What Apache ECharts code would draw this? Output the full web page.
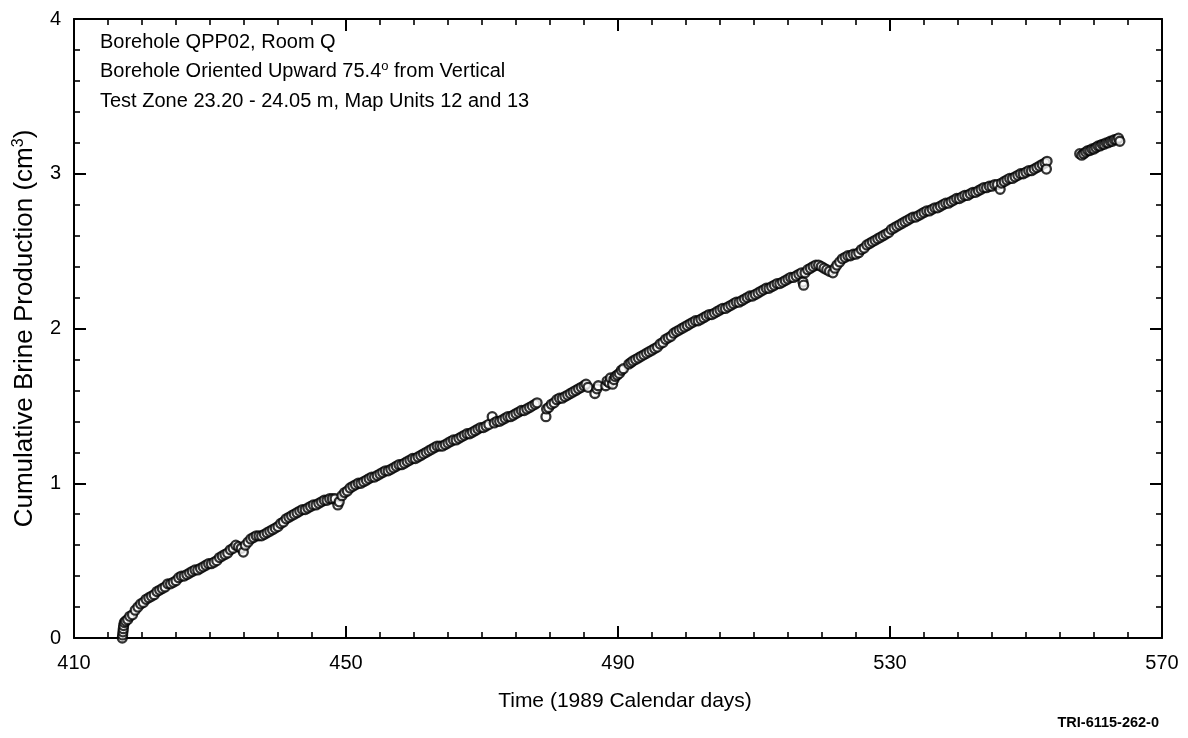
<!DOCTYPE html>
<html>
<head>
<meta charset="utf-8">
<script src="https://cdn.jsdelivr.net/npm/echarts@6/dist/echarts.min.js"></script>
<style>
html,body{margin:0;padding:0;background:#fff;}
#chart{width:1188px;height:738px;}
</style>
</head>
<body>
<div id="chart"></div>
<script>
// ---- Data ----
var xTicks = [410, 450, 490, 530, 570];
var yTicks = [0, 1, 2, 3, 4];
var annotationLines = [
  'Borehole QPP02, Room Q',
  'Borehole Oriented Upward 75.4',
  'Test Zone 23.20 - 24.05 m, Map Units 12 and 13'
];
var xTitle = 'Time (1989 Calendar days)';
var yTitle = 'Cumulative Brine Production (cm';
var figureId = 'TRI-6115-262-0';

// segment 1: day 417 - 478
var brineSeg1 = [
[417.1,0.00],[417.15,0.02],[417.2,0.04],[417.25,0.06],[417.3,0.08],[417.4,0.10],[417.6,0.11],[417.9,0.12],[418.2,0.14],[418.6,0.15],
[419.0,0.18],[419.4,0.20],[419.8,0.22],[420.2,0.23],[420.6,0.25],[421.0,0.26],[421.4,0.27],[421.8,0.28],[422.2,0.30],[422.6,0.31],
[423.0,0.32],[423.4,0.33],[423.8,0.35],[424.2,0.35],[424.6,0.36],[425.0,0.37],[425.4,0.39],[425.8,0.40],[426.2,0.40],[426.6,0.41],
[427.0,0.42],[427.4,0.43],[427.8,0.44],[428.2,0.44],[428.6,0.45],[429.0,0.46],[429.4,0.47],[429.8,0.48],[430.2,0.48],[430.6,0.49],
[431.0,0.50],[431.4,0.52],[431.8,0.53],[432.2,0.54],[432.6,0.55],[433.0,0.57],[433.4,0.58],[433.8,0.60],[434.2,0.59],[434.6,0.58],
[434.9,0.555],[435.2,0.60],[435.6,0.62],[436.0,0.64],[436.4,0.65],[436.8,0.66],[437.2,0.66],[437.6,0.66],[438.0,0.67],[438.4,0.68],
[438.8,0.69],[439.2,0.70],[439.6,0.71],[440.0,0.72],[440.4,0.74],[440.8,0.75],[441.2,0.77],[441.6,0.78],[442.0,0.79],[442.4,0.80],
[442.8,0.81],[443.2,0.82],[443.6,0.83],[444.0,0.83],[444.4,0.84],[444.8,0.85],[445.2,0.86],[445.6,0.86],[446.0,0.87],[446.4,0.88],
[446.8,0.89],[447.2,0.89],[447.6,0.90],[448.0,0.90],[448.4,0.90],[448.8,0.86],[449.0,0.88],[449.4,0.92],[449.8,0.94],[450.2,0.95],
[450.6,0.97],[451.0,0.98],[451.4,0.99],[451.8,1.00],[452.2,1.00],[452.6,1.01],[453.0,1.02],[453.4,1.03],[453.8,1.04],[454.2,1.04],
[454.6,1.05],[455.0,1.06],[455.4,1.07],[455.8,1.08],[456.2,1.08],[456.6,1.09],[457.0,1.10],[457.4,1.11],[457.8,1.12],[458.2,1.12],
[458.6,1.13],[459.0,1.14],[459.4,1.15],[459.8,1.16],[460.2,1.16],[460.6,1.17],[461.0,1.18],[461.4,1.19],[461.8,1.20],[462.2,1.21],
[462.6,1.22],[463.0,1.23],[463.4,1.24],[463.8,1.24],[464.2,1.24],[464.6,1.25],[465.0,1.26],[465.4,1.27],[465.8,1.28],[466.2,1.28],
[466.6,1.29],[467.0,1.30],[467.4,1.31],[467.8,1.32],[468.2,1.32],[468.6,1.33],[469.0,1.34],[469.4,1.35],[469.8,1.36],[470.2,1.36],
[470.6,1.37],[471.0,1.38],[471.5,1.43],[471.8,1.39],[472.2,1.40],[472.6,1.40],[473.0,1.41],[473.4,1.42],[473.8,1.43],[474.2,1.43],
[474.6,1.44],[475.0,1.45],[475.4,1.46],[475.8,1.47],[476.2,1.47],[476.6,1.48],[477.0,1.49],[477.4,1.50],[477.8,1.51],[478.1,1.52]
];
// segment 2: day 479 - 553
var brineSeg2 = [
[479.4,1.43],[479.5,1.48],[479.8,1.49],[480.2,1.51],[480.6,1.52],[481.0,1.54],[481.4,1.55],[481.8,1.55],[482.2,1.56],[482.6,1.57],
[483.0,1.58],[483.4,1.59],[483.8,1.60],[484.2,1.61],[484.6,1.62],[485.0,1.63],[485.3,1.64],[485.6,1.62],[486.6,1.58],[486.9,1.61],
[487.1,1.63],[488.2,1.63],[488.4,1.66],[488.7,1.65],[488.9,1.68],[489.2,1.64],[489.4,1.67],[489.6,1.69],[489.9,1.70],[490.2,1.71],
[490.5,1.73],[490.8,1.74],[491.6,1.77],[491.9,1.78],[492.2,1.79],[492.6,1.80],[493.0,1.81],[493.4,1.82],[493.8,1.83],[494.2,1.84],
[494.6,1.85],[495.0,1.86],[495.4,1.87],[495.8,1.88],[496.2,1.90],[496.6,1.91],[497.0,1.93],[497.4,1.94],[497.8,1.95],[498.2,1.97],
[498.6,1.98],[499.0,1.99],[499.4,2.00],[499.8,2.01],[500.2,2.02],[500.6,2.03],[501.0,2.04],[501.4,2.05],[501.8,2.05],[502.2,2.06],
[502.6,2.07],[503.0,2.08],[503.4,2.09],[503.8,2.09],[504.2,2.10],[504.6,2.11],[505.0,2.12],[505.4,2.13],[505.8,2.13],[506.2,2.14],
[506.6,2.15],[507.0,2.16],[507.4,2.17],[507.8,2.17],[508.2,2.18],[508.6,2.19],[509.0,2.20],[509.4,2.21],[509.8,2.21],[510.2,2.22],
[510.6,2.23],[511.0,2.24],[511.4,2.25],[511.8,2.26],[512.2,2.26],[512.6,2.27],[513.0,2.28],[513.4,2.29],[513.8,2.29],[514.2,2.30],
[514.6,2.31],[515.0,2.32],[515.4,2.33],[515.8,2.33],[516.2,2.34],[516.6,2.35],[517.0,2.36],[517.2,2.30],[517.3,2.28],[517.5,2.36],
[517.9,2.38],[518.3,2.39],[518.7,2.40],[519.1,2.41],[519.5,2.41],[519.9,2.40],[520.3,2.39],[520.7,2.38],[521.1,2.37],[521.6,2.36],
[521.9,2.39],[522.2,2.41],[522.6,2.43],[523.0,2.45],[523.4,2.46],[523.8,2.47],[524.2,2.47],[524.6,2.48],[525.0,2.48],[525.4,2.49],
[525.8,2.51],[526.2,2.52],[526.6,2.54],[527.0,2.55],[527.4,2.56],[527.8,2.57],[528.2,2.58],[528.6,2.59],[529.0,2.60],[529.4,2.61],
[529.8,2.62],[530.2,2.64],[530.6,2.65],[531.0,2.66],[531.4,2.67],[531.8,2.68],[532.2,2.69],[532.6,2.70],[533.0,2.71],[533.4,2.72],
[533.8,2.72],[534.2,2.73],[534.6,2.74],[535.0,2.75],[535.4,2.76],[535.8,2.76],[536.2,2.77],[536.6,2.78],[537.0,2.78],[537.4,2.79],
[537.8,2.80],[538.2,2.81],[538.6,2.81],[539.0,2.82],[539.4,2.83],[539.8,2.84],[540.2,2.84],[540.6,2.85],[541.0,2.86],[541.4,2.86],
[541.8,2.87],[542.2,2.88],[542.6,2.88],[543.0,2.89],[543.4,2.90],[543.8,2.91],[544.2,2.91],[544.6,2.92],[545.0,2.92],[545.4,2.93],
[545.8,2.93],[546.2,2.90],[546.4,2.94],[546.8,2.95],[547.2,2.96],[547.6,2.97],[548.0,2.97],[548.4,2.98],[548.8,2.99],[549.2,3.00],
[549.6,3.00],[550.0,3.01],[550.4,3.02],[550.8,3.02],[551.2,3.03],[551.6,3.04],[552.0,3.05],[552.4,3.06],[552.8,3.07],[553.1,3.08],
[553.0,3.03]
];
// segment 3: day 558 - 564
var brineSeg3 = [
[557.9,3.13],[558.2,3.12],[558.5,3.13],[558.8,3.14],[559.1,3.15],[559.4,3.15],[559.7,3.16],[560.0,3.16],[560.3,3.17],[560.6,3.18],
[560.9,3.18],[561.2,3.19],[561.5,3.19],[561.8,3.20],[562.1,3.20],[562.4,3.21],[562.7,3.21],[563.0,3.22],[563.3,3.22],[563.6,3.23],
[563.8,3.21]
];

var FONT = '"Liberation Sans", Arial, sans-serif';
var chart = echarts.init(document.getElementById('chart'), null, {renderer: 'canvas'});

var axisLineStyle = {color: '#000', width: 2};
function xAxisDef(pos, showLabels) {
  return {
    type: 'value', position: pos, min: xTicks[0], max: xTicks[xTicks.length - 1], interval: 40,
    axisLine: {show: true, onZero: false, lineStyle: axisLineStyle},
    axisTick: {show: true, inside: true, length: 12, lineStyle: {color: '#000', width: 2}},
    minorTick: {show: true, splitNumber: 8, length: 6, lineStyle: {color: '#000', width: 1.6}},
    splitLine: {show: false},
    axisLabel: {show: showLabels, color: '#000', fontSize: 20, fontFamily: FONT, margin: 15},
    name: showLabels ? xTitle : '',
    nameLocation: 'middle', nameGap: 53,
    nameTextStyle: {color: '#000', fontSize: 21, fontFamily: FONT, padding: [0, 0, 0, 14]}
  };
}
function yAxisDef(pos, showLabels) {
  return {
    type: 'value', position: pos, min: yTicks[0], max: yTicks[yTicks.length - 1], interval: 1,
    axisLine: {show: true, onZero: false, lineStyle: axisLineStyle},
    axisTick: {show: true, inside: true, length: 12, lineStyle: {color: '#000', width: 2}},
    minorTick: {show: true, splitNumber: 5, length: 6, lineStyle: {color: '#000', width: 1.6}},
    splitLine: {show: false},
    axisLabel: {show: showLabels, color: '#000', fontSize: 20, fontFamily: FONT, margin: 13},
    name: showLabels ? '{t|' + yTitle + '}{s|3}{t|)}' : '',
    nameLocation: 'middle', nameGap: 35,
    nameTextStyle: {
      color: '#000', fontSize: 26, fontFamily: FONT,
      rich: {
        t: {fontSize: 26, fontFamily: FONT, color: '#000'},
        s: {fontSize: 16, fontFamily: FONT, color: '#000', verticalAlign: 'top', padding: [0, 0, 12, 0]}
      }
    }
  };
}

var markerStyle = {color: '#fff', borderColor: '#000', borderWidth: 2.3};
function seriesDef(d) {
  return {type: 'scatter', data: d, symbol: 'circle', symbolSize: 9, itemStyle: markerStyle,
          xAxisIndex: 0, yAxisIndex: 0, silent: true, animation: false};
}

chart.setOption({
  backgroundColor: '#fff',
  animation: false,
  grid: {left: 74, right: 26, top: 19, bottom: 100, containLabel: false},
  xAxis: [xAxisDef('bottom', true), xAxisDef('top', false)],
  yAxis: [yAxisDef('left', true), yAxisDef('right', false)],
  series: [seriesDef(brineSeg1), seriesDef(brineSeg2), seriesDef(brineSeg3)],
  graphic: [
    {type: 'text', left: 100, top: 32, style: {text: annotationLines[0], font: '20px ' + FONT, fill: '#000'}},
    {type: 'text', left: 100, top: 60, style: {
      text: '{a|' + annotationLines[1] + '}{b|o}{a| from Vertical}',
      rich: {a: {fontSize: 20, fontFamily: FONT, color: '#000'},
             b: {fontSize: 13, fontFamily: FONT, color: '#000', verticalAlign: 'top', padding: [0, 0, 10, 0]}},
      fill: '#000'}},
    {type: 'text', left: 100, top: 91, style: {text: annotationLines[2], font: '20px ' + FONT, fill: '#000'}},
    {type: 'text', right: 29, top: 715, style: {text: figureId, font: 'bold 14.5px ' + FONT, fill: '#000'}}
  ]
});
</script>
</body>
</html>
